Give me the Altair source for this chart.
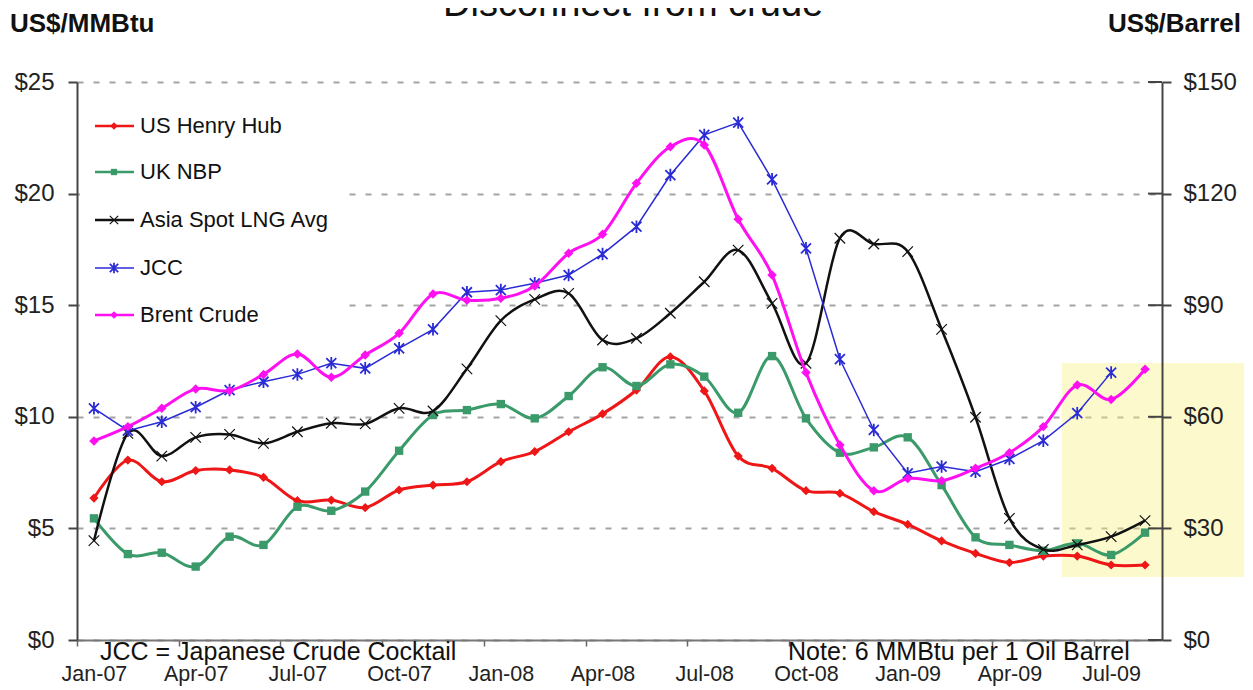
import altair as alt
import pandas as pd

# ---------------- data ----------------
months = ["Jan-07", "Feb-07", "Mar-07", "Apr-07", "May-07", "Jun-07", "Jul-07", "Aug-07",
          "Sep-07", "Oct-07", "Nov-07", "Dec-07", "Jan-08", "Feb-08", "Mar-08", "Apr-08",
          "May-08", "Jun-08", "Jul-08", "Aug-08", "Sep-08", "Oct-08", "Nov-08", "Dec-08",
          "Jan-09", "Feb-09", "Mar-09", "Apr-09", "May-09", "Jun-09", "Jul-09", "Aug-09"]
tick_labels = ["Jan-07", "Apr-07", "Jul-07", "Oct-07", "Jan-08", "Apr-08",
               "Jul-08", "Oct-08", "Jan-09", "Apr-09", "Jul-09"]
series_names = ["US Henry Hub", "UK NBP", "Asia Spot LNG Avg", "JCC", "Brent Crude"]

henry_hub = [6.36, 8.06, 7.09, 7.59, 7.62, 7.29, 6.24, 6.27, 5.93, 6.72, 6.94, 7.09,
             7.99, 8.44, 9.33, 10.13, 11.2, 12.69, 11.16, 8.24, 7.69, 6.69, 6.57, 5.75,
             5.18, 4.44, 3.88, 3.47, 3.76, 3.76, 3.36, 3.36]
uk_nbp = [5.45, 3.85, 3.91, 3.29, 4.63, 4.26, 5.97, 5.79, 6.65, 8.48, 10.08, 10.3,
          10.57, 9.93, 10.93, 12.22, 11.38, 12.35, 11.8, 10.18, 12.72, 9.93, 8.39, 8.63,
          9.08, 6.94, 4.6, 4.26, 4.0, 4.33, 3.81, 4.81]
asia_lng = [4.45, 9.26, 8.24, 9.08, 9.21, 8.81, 9.33, 9.71, 9.68, 10.38, 10.26, 12.15,
            14.31, 15.26, 15.53, 13.44, 13.52, 14.64, 16.05, 17.47, 15.08, 12.4, 18.0, 17.74,
            17.4, 13.92, 9.98, 5.45, 4.06, 4.26, 4.63, 5.35]
jcc = [10.38, 9.38, 9.78, 10.43, 11.2, 11.57, 11.9, 12.4, 12.17, 13.07, 13.92, 15.58,
       15.68, 15.98, 16.35, 17.29, 18.52, 20.83, 22.63, 23.18, 20.64, 17.55, 12.58, 9.41,
       7.47, 7.77, 7.54, 8.11, 8.93, 10.16, 11.98, None]
brent = [8.92, 9.56, 10.38, 11.25, 11.17, 11.9, 12.81, 11.77, 12.77, 13.74, 15.5, 15.22,
         15.31, 15.86, 17.33, 18.18, 20.46, 22.1, 22.18, 18.85, 16.35, 11.98, 8.74, 6.69,
         7.24, 7.14, 7.69, 8.39, 9.56, 11.42, 10.78, 12.13]

left_ticks = [0, 5, 10, 15, 20, 25]
right_ticks = [0, 30, 60, 90, 120, 150]

# ---------------- layout ----------------
W, H = 1085, 558
PAD = {"left": 69, "top": 74, "right": 82, "bottom": 54}
X0 = 8 + PAD["left"]
Y0 = 8 + PAD["top"]
N = len(months)
FONT = "Liberation Sans"


def px2x(px):
    return (px - X0) / W * N - 0.5


def py2y(py):
    return (Y0 + H - py) / H * 25


rows = []
for name, vals in zip(series_names, [henry_hub, uk_nbp, asia_lng, jcc, brent]):
    for i, v in enumerate(vals):
        if v is not None:
            rows.append({"i": i, "month": months[i], "series": name, "value": v})
df = pd.DataFrame(rows)

X_PATH = "M-1,-1L1,1M-1,1L1,-1"
AST_PATH = "M-1,-1L1,1M-1,1L1,-1M0,-1.25L0,1.25"

styles = {
    "US Henry Hub": dict(color="#EE1616", sw=3, interp="cardinal", shape="diamond",
                         size=85, filled=True, msw=0, lsize=55),
    "UK NBP": dict(color="#3A9A6A", sw=3, interp="cardinal", shape="square",
                   size=70, filled=True, msw=0, lsize=40),
    "Asia Spot LNG Avg": dict(color="#111111", sw=2.5, interp="cardinal", shape=X_PATH,
                              size=110, filled=False, msw=1.2, lsize=70),
    "JCC": dict(color="#2B2BD6", sw=1.5, interp="linear", shape=AST_PATH,
                size=100, filled=False, msw=1.8, lsize=70),
    "Brent Crude": dict(color="#FF10F0", sw=3, interp="cardinal", shape="diamond",
                        size=90, filled=True, msw=0, lsize=60),
}

xscale = alt.Scale(domain=[-0.5, N - 0.5], nice=False, zero=False)
yscale = alt.Scale(domain=[0, 25], nice=False, zero=False)

label_arr = "[" + ",".join("'" + t + "'" for t in tick_labels) + "]"
half_band = W / N / 2
x_axis = alt.Axis(
    values=list(range(0, N, 3)),
    labelExpr=label_arr + "[round(datum.value / 3)]",
    tickOffset=-half_band, labelOffset=half_band,
    tickSize=6, tickWidth=1.5, tickColor="#666",
    domainColor="#777", domainWidth=2,
    labelFont=FONT, labelFontSize=21.5, labelColor="#222", labelPadding=17,
    labelFlush=False, labelOverlap=False, labelAngle=0,
    grid=False, title=None,
)
y_axis = alt.Axis(
    values=left_ticks, labelExpr="'$' + datum.value",
    tickSize=9, tickWidth=2, tickColor="#444",
    domainColor="#444", domainWidth=2,
    labelFont=FONT, labelFontSize=24, labelColor="#222", labelPadding=14,
    grid=True, gridDash=[6, 10], gridColor="#A3A3A3", gridWidth=2,
    title=None,
)


def X(field):
    return alt.X(field, type="quantitative", scale=xscale, axis=x_axis)


def Y(field):
    return alt.Y(field, type="quantitative", scale=yscale, axis=y_axis)


layers = []

# legend white background (hides gridlines behind legend, keeps the axis line)
legend_bg = pd.DataFrame({"x0": [px2x(80)], "x1": [px2x(343)],
                          "y0": [py2y(333)], "y1": [py2y(96)]})
layers.append(alt.Chart(legend_bg).mark_rect(color="white").encode(
    x=X("x0"), x2="x1", y=Y("y0"), y2="y1"))

# yellow highlight box
hl = pd.DataFrame({"x0": [px2x(1062)], "x1": [px2x(1247)],
                   "y0": [py2y(577)], "y1": [py2y(363)]})
layers.append(alt.Chart(hl).mark_rect(color="#F6F27A", opacity=0.38).encode(
    x=X("x0"), x2="x1", y=Y("y0"), y2="y1"))

# series
for name in series_names:
    st = styles[name]
    base = alt.Chart(df).transform_filter(alt.datum.series == name)
    line_kwargs = dict(color=st["color"], strokeWidth=st["sw"], interpolate=st["interp"])
    if st["interp"] == "cardinal":
        line_kwargs["tension"] = 0
    layers.append(base.mark_line(**line_kwargs).encode(x=X("i"), y=Y("value")))
    pt_kwargs = dict(shape=st["shape"], size=st["size"], opacity=1, filled=st["filled"])
    if st["filled"]:
        pt_kwargs["fill"] = st["color"]
        pt_kwargs["strokeWidth"] = 0
    else:
        pt_kwargs["stroke"] = st["color"]
        pt_kwargs["strokeWidth"] = st["msw"]
    layers.append(base.mark_point(**pt_kwargs).encode(
        x=X("i"), y=Y("value"), tooltip=["series", "month", "value"]))

# legend entries
legend_rows_py = [126, 172, 220, 268, 315]
for name, py in zip(series_names, legend_rows_py):
    st = styles[name]
    ld = pd.DataFrame({"lx0": [px2x(95)], "lx1": [px2x(134)], "mx": [px2x(114)],
                       "tx": [px2x(140)], "ly": [py2y(py)], "name": [name]})
    lb = alt.Chart(ld)
    layers.append(lb.mark_rule(color=st["color"], strokeWidth=min(st["sw"], 2.5)).encode(
        x=X("lx0"), x2="lx1", y=Y("ly")))
    pk = dict(shape=st["shape"], size=st["lsize"], opacity=1, filled=st["filled"])
    if st["filled"]:
        pk["fill"] = st["color"]
        pk["strokeWidth"] = 0
    else:
        pk["stroke"] = st["color"]
        pk["strokeWidth"] = st["msw"]
    layers.append(lb.mark_point(**pk).encode(x=X("mx"), y=Y("ly")))
    layers.append(lb.mark_text(align="left", baseline="middle", font=FONT, fontSize=22,
                               color="#111").encode(x=X("tx"), y=Y("ly"), text="name:N"))

one = pd.DataFrame({"k": [0]})


def free_text(txt, px, py, **kw):
    return alt.Chart(one).mark_text(text=txt, font=FONT, color="#111", **kw).encode(
        x=alt.value(px - X0), y=alt.value(py - Y0))


layers.append(free_text("JCC = Japanese Crude Cocktail", 100, 660,
                        align="left", baseline="alphabetic", fontSize=25))
layers.append(free_text("Note: 6 MMBtu per 1 Oil Barrel", 788, 660,
                        align="left", baseline="alphabetic", fontSize=25))
layers.append(free_text("US$/MMBtu", 10, 32, align="left", baseline="alphabetic",
                        fontSize=26, fontWeight="bold"))
layers.append(free_text("US$/Barrel", 1241, 32, align="right", baseline="alphabetic",
                        fontSize=26, fontWeight="bold"))
layers.append(free_text("\u2022", 421, 16, align="left", baseline="alphabetic", fontSize=38))
layers.append(free_text("Disconnect from crude", 443, 16, align="left",
                        baseline="alphabetic", fontSize=38))

inner = alt.layer(*layers)

# right axis (US$/Barrel) with inner tick halves
right_df = pd.DataFrame({"v": right_ticks})
right_axis = alt.Axis(
    orient="right", values=right_ticks, labelExpr="'$' + datum.value",
    tickSize=9, tickWidth=2, tickColor="#444",
    domainColor="#444", domainWidth=2,
    labelFont=FONT, labelFontSize=24, labelColor="#222", labelPadding=12,
    grid=False, title=None, zindex=1,
)
right_layer = alt.Chart(right_df).mark_rule(color="#444", strokeWidth=2).encode(
    y=alt.Y("v:Q", scale=alt.Scale(domain=[0, 150], nice=False, zero=False), axis=right_axis),
    x=alt.value(W - 14), x2=alt.value(W),
)

chart = alt.layer(inner, right_layer).resolve_scale(y="independent").properties(
    width=W, height=H, padding=PAD,
    autosize=alt.AutoSizeParams(type="none"),
    background="white",
).configure_view(stroke=None)

chart.save("out.html", embed_options={"renderer": "svg", "actions": False})
